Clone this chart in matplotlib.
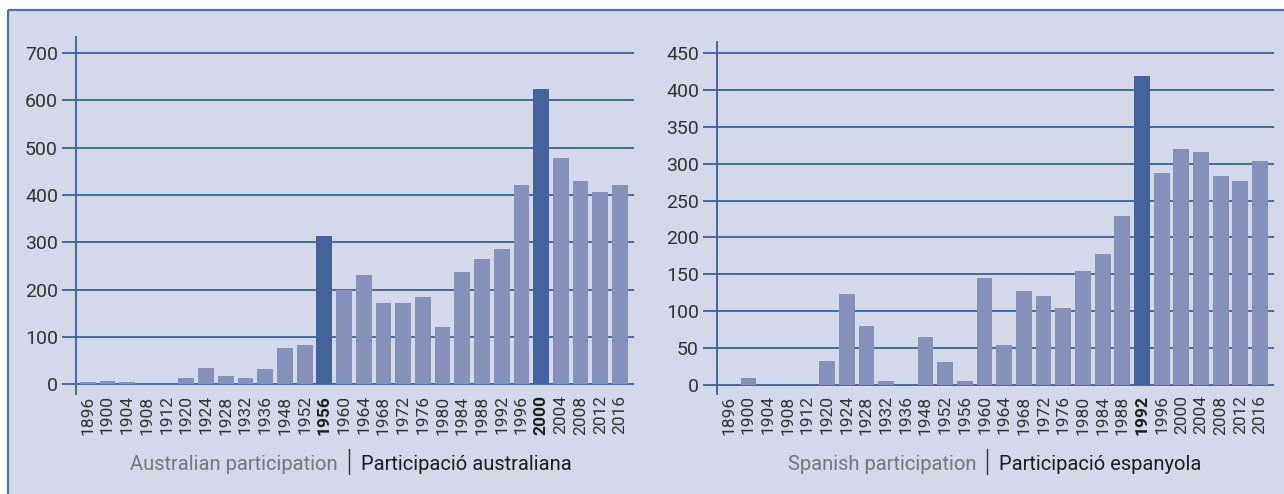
import matplotlib
matplotlib.use("Agg")
import matplotlib.pyplot as plt
from matplotlib.patches import Rectangle
from matplotlib.lines import Line2D

years = [1896, 1900, 1904, 1908, 1912, 1920, 1924, 1928, 1932, 1936, 1948, 1952,
         1956, 1960, 1964, 1968, 1972, 1976, 1980, 1984, 1988, 1992, 1996, 2000,
         2004, 2008, 2012, 2016]
australia = [5, 7, 5, 0, 0, 12, 34, 18, 13, 32, 77, 83,
             313, 199, 231, 172, 172, 184, 121, 237, 265, 286, 421, 623,
             478, 429, 406, 421]
spain = [0, 9, 0, 0, 0, 33, 123, 80, 6, 0, 65, 31,
         6, 145, 54, 128, 120, 105, 154, 177, 229, 419, 287, 320,
         316, 284, 276, 303]
aus_highlight = [1956, 2000]
esp_highlight = [1992]
aus_yticks = [0, 100, 200, 300, 400, 500, 600, 700]
esp_yticks = [0, 50, 100, 150, 200, 250, 300, 350, 400, 450]
aus_caption = ("Australian participation", "Participació australiana")
esp_caption = ("Spanish participation", "Participació espanyola")

BG = "#d4d8e8"
BAR = "#8590bb"
BAR_HI = "#44639d"
GRID = "#3464a4"
FRAME = "#4a72ac"
FONT = "Roboto"

plt.rcParams["font.family"] = [FONT, "DejaVu Sans"]

W, H = 1284, 494
fig = plt.figure(figsize=(W / 100, H / 100), dpi=100, facecolor="white")

# panel background and border (drawn on a background axes)
bg = fig.add_axes([0, 0, 1, 1], zorder=-10)
bg.set_xlim(0, W)
bg.set_ylim(H, 0)
bg.axis("off")
bg.add_patch(Rectangle((8, 10), W - 8, H - 10, facecolor=BG, edgecolor="none"))
bg.plot([8, W], [10, 10], color=FRAME, lw=1.6, solid_capstyle="butt")
bg.plot([8, 8], [10, H], color=FRAME, lw=1.6, solid_capstyle="butt")


def draw(rect, values, highlight, yticks, ylim, caption, cap_x):
    ax = fig.add_axes(rect)
    ax.set_facecolor("none")
    x = list(range(len(years)))
    colors = [BAR_HI if y in highlight else BAR for y in years]
    ax.bar(x, values, width=0.8, color=colors, zorder=3)
    ax.set_xlim(-0.6, len(years) - 1 + 0.71)
    ax.set_ylim(*ylim)
    ax.set_yticks(yticks)
    ax.set_yticklabels([str(t) for t in yticks])
    for t in yticks:
        ax.axhline(t, color=GRID, lw=1.3, zorder=1)
    ax.set_xticks(x)
    ax.set_xticklabels([str(y) for y in years], rotation=90, va="top", ha="center")
    for lab, y in zip(ax.get_xticklabels(), years):
        if y in highlight:
            lab.set_fontweight("bold")
            lab.set_color("#1e1e1e")
        else:
            lab.set_color("#333333")
    ax.tick_params(axis="x", length=0, pad=1, labelsize=12.5)
    ax.tick_params(axis="y", length=10, width=1.3, color=GRID, pad=3,
                   labelsize=14, labelcolor="#333333")
    for s in ["top", "right", "bottom"]:
        ax.spines[s].set_visible(False)
    ax.spines["left"].set_color(GRID)
    ax.spines["left"].set_linewidth(1.3)
    # caption
    yc = 1 - 464 / H
    fig.text((cap_x - 11) / W, yc, caption[0], ha="right", va="center",
             fontsize=14.5, color="#777777")
    fig.text((cap_x + 12) / W, yc, caption[1], ha="left", va="center",
             fontsize=14.5, color="#1e1e1e")
    fig.lines.append(Line2D([cap_x / W, cap_x / W], [1 - 449 / H, 1 - 474 / H],
                            transform=fig.transFigure, color="#333333", lw=1.0))
    return ax


draw([76 / W, 100 / H, 558 / W, 357 / H], australia, aus_highlight, aus_yticks,
     (-21, 734), aus_caption, 349)
draw([717 / W, 100 / H, 557 / W, 352 / H], spain, esp_highlight, esp_yticks,
     (-12.2, 465), esp_caption, 987)

fig.savefig("out.png", dpi=100, facecolor="white")
